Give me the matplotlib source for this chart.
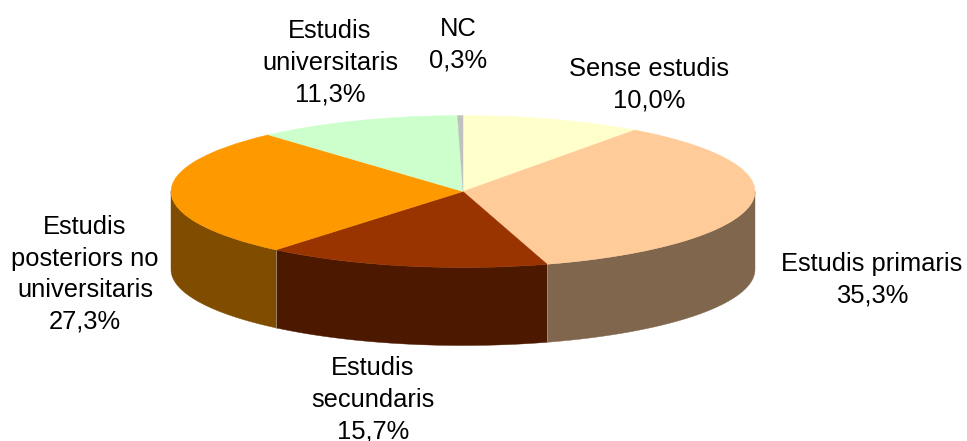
import numpy as np
import matplotlib
matplotlib.use("Agg")
import matplotlib.pyplot as plt

categories = ["Sense estudis", "Estudis primaris", "Estudis\nsecundaris",
              "Estudis\nposteriors no\nuniversitaris", "Estudis\nuniversitaris", "NC"]
values = [10.0, 35.3, 15.7, 27.3, 11.3, 0.3]
value_labels = ["10,0%", "35,3%", "15,7%", "27,3%", "11,3%", "0,3%"]
top_colors = ["#FFFFCC", "#FFCC99", "#993300", "#FF9900", "#CCFFCC", "#C0C0C0"]
side_colors = ["#7F7F66", "#7F664C", "#4C1900", "#7F4C00", "#667F66", "#606060"]

W, H = 967, 441
CX, CY, RX, RY, DEPTH = 463.0, 191.5, 292.0, 76.0, 78.0

plt.rcParams["font.family"] = "Liberation Sans"
fig = plt.figure(figsize=(W / 100, H / 100), dpi=100, facecolor="white")
ax = fig.add_axes([0, 0, 1, 1])

wedges, _ = ax.pie(values, colors=top_colors, startangle=90, counterclock=False,
                   normalize=True, radius=1.0, center=(0, 0),
                   wedgeprops=dict(linewidth=0, zorder=3))
for w, c in zip(wedges, top_colors):
    w.set_edgecolor(c)
    w.set_linewidth(0.3)
ax.set_aspect("auto")
ax.set_xlim(-CX / RX, (W - CX) / RX)
ax.set_ylim(-(H - CY) / RY, CY / RY)
ax.axis("off")

d = DEPTH / RY
cum = np.cumsum([0] + values) / sum(values) * 2 * np.pi
for i in range(len(values)):
    a0, a1 = cum[i], cum[i + 1]
    lo, hi = max(a0, np.pi / 2), min(a1, 3 * np.pi / 2)
    if hi <= lo:
        continue
    t = np.linspace(lo, hi, 120)
    x, y = np.sin(t), np.cos(t)
    ax.fill(np.r_[x, x[::-1]], np.r_[y, y[::-1] - d], facecolor=side_colors[i],
            edgecolor=side_colors[i], linewidth=0.3, zorder=2)
    if hi == a1:
        ax.plot([np.sin(a1)] * 2, [np.cos(a1), np.cos(a1) - d], color="#A8957F",
                linewidth=0.6, zorder=2.5)

label_px = [(649, 84.5), (872, 279.5), (373, 400), (85, 274.5), (330, 63), (458, 45)]
for name, val, (px, py) in zip(categories, value_labels, label_px):
    ax.text((px - CX) / RX, (CY - py) / RY, f"{name}\n{val}", ha="center", va="center",
            fontsize=18.4, color="black", linespacing=1.4, clip_on=False, zorder=5)

fig.savefig("out.png", dpi=100, facecolor="white")
